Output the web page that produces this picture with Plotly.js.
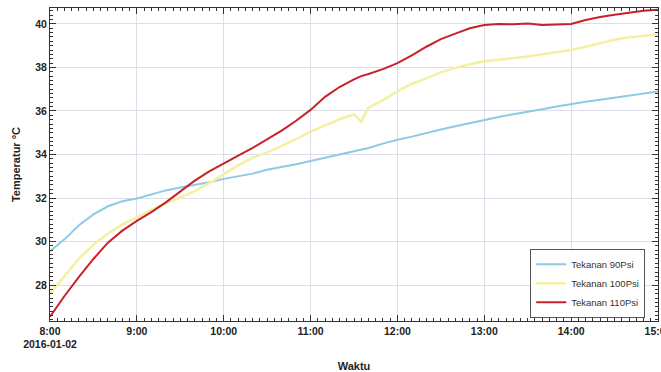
<!DOCTYPE html>
<html>
<head>
<meta charset="utf-8">
<script src="https://cdn.plot.ly/plotly-3.0.1.min.js"></script>
<style>html,body{margin:0;padding:0;background:#fff;}#chart{width:661px;height:372px;}</style>
</head>
<body>
<div id="chart"></div>
<script>
// Time stamps (2016-01-02)
const times = ["08:00","08:10","08:20","08:30","08:40","08:50",
  "09:00","09:10","09:20","09:30","09:40","09:50",
  "10:00","10:10","10:20","10:30","10:40","10:50",
  "11:00","11:10","11:20","11:30","11:35","11:40","11:50",
  "12:00","12:10","12:20","12:30","12:40","12:50",
  "13:00","13:10","13:20","13:30","13:40","13:50",
  "14:00","14:10","14:20","14:30","14:40","14:50","15:00"];

const psi90 = [29.55,30.1,30.75,31.25,31.62,31.85,
  31.98,32.18,32.35,32.48,32.6,32.72,
  32.88,33.0,33.12,33.3,33.42,33.55,
  33.7,33.85,34.02,34.15,34.22,34.3,34.5,
  34.68,34.82,35.0,35.15,35.3,35.45,
  35.6,35.72,35.85,35.95,36.08,36.2,
  36.32,36.42,36.52,36.62,36.7,36.8,36.9];

const psi100 = [27.6,28.4,29.22,29.85,30.37,30.78,
  31.12,31.46,31.76,32.02,32.32,32.68,
  33.1,33.5,33.85,34.1,34.4,34.7,
  35.05,35.35,35.62,35.85,35.5,36.15,36.5,
  36.9,37.25,37.5,37.78,37.98,38.15,
  38.28,38.35,38.45,38.5,38.6,38.7,
  38.8,38.95,39.12,39.27,39.38,39.45,39.52];

const psi110 = [26.55,27.5,28.38,29.2,29.95,30.5,
  30.95,31.35,31.8,32.3,32.8,33.22,
  33.6,33.95,34.3,34.7,35.1,35.55,
  36.05,36.65,37.1,37.45,37.6,37.7,37.92,
  38.2,38.55,38.95,39.3,39.55,39.8,
  39.95,40.0,39.98,40.02,39.95,39.97,
  40.0,40.18,40.32,40.42,40.52,40.6,40.65];

const seriesNames = ["Tekanan 90Psi","Tekanan 100Psi","Tekanan 110Psi"];
const hourTicks = ["08:00","09:00","10:00","11:00","12:00","13:00","14:00","15:00"];
const hourLabels = ["8:00<br>2016-01-02","9:00","10:00","11:00","12:00","13:00","14:00","15:00"];

const day = "2016-01-02 ";
const x = times.map(t => day + t);

const traces = [
  {x: x, y: psi90, name: seriesNames[0], type: "scatter", mode: "lines",
   line: {color: "#8ccbe3", width: 2}},
  {x: x, y: psi100, name: seriesNames[1], type: "scatter", mode: "lines",
   line: {color: "#f4f0a2", width: 2.5}},
  {x: x, y: psi110, name: seriesNames[2], type: "scatter", mode: "lines",
   line: {color: "#c9212c", width: 2}}
];

const tickFont = {family: "Liberation Sans, Arial, sans-serif", size: 10.5, color: "#222", weight: "bold"};

const layout = {
  width: 661, height: 372,
  margin: {l: 50, r: 3, t: 8, b: 51, autoexpand: false},
  paper_bgcolor: "#fff", plot_bgcolor: "#fff",
  showlegend: true,
  legend: {
    x: 0.979, y: 0.121, xanchor: "right", yanchor: "middle",
    bordercolor: "#555", borderwidth: 1, bgcolor: "#fff",
    font: {family: "Liberation Sans, Arial, sans-serif", size: 9.5, color: "#333"},
    itemwidth: 30,
    tracegroupgap: 0
  },
  xaxis: {
    type: "date",
    range: [day + "08:00", day + "15:00"],
    tickmode: "array",
    tickvals: hourTicks.map(t => day + t),
    ticktext: hourLabels,
    tickfont: tickFont,
    ticklabeloverflow: "allow",
    ticks: "inside", ticklen: 6, tickcolor: "#333", tickwidth: 1,
    showline: true, linecolor: "#333", linewidth: 1, mirror: "allticks",
    showgrid: true, gridcolor: "#dddde9", gridwidth: 1,
    zeroline: false,
    minor: {tickmode: "linear", tick0: day + "08:00", dtick: 300000,
            ticks: "inside", ticklen: 3, tickcolor: "#333", showgrid: false},
    title: {text: "Waktu", font: {family: "Liberation Sans, Arial, sans-serif", size: 11, color: "#222", weight: "bold"}, standoff: 18}
  },
  yaxis: {
    range: [26.35, 40.73],
    tickmode: "linear", tick0: 28, dtick: 2,
    tickfont: tickFont,
    ticks: "inside", ticklen: 6, tickcolor: "#333", tickwidth: 1,
    showline: true, linecolor: "#333", linewidth: 1, mirror: "allticks",
    showgrid: true, gridcolor: "#dddde9", gridwidth: 1,
    zeroline: false,
    minor: {tickmode: "linear", tick0: 26, dtick: 0.2,
            ticks: "inside", ticklen: 3, tickcolor: "#333", showgrid: false},
    title: {text: "Temperatur °C", font: {family: "Liberation Sans, Arial, sans-serif", size: 11, color: "#222", weight: "bold"}, standoff: 12}
  }
};

Plotly.newPlot("chart", traces, layout, {displayModeBar: false, staticPlot: true});
</script>
</body>
</html>
